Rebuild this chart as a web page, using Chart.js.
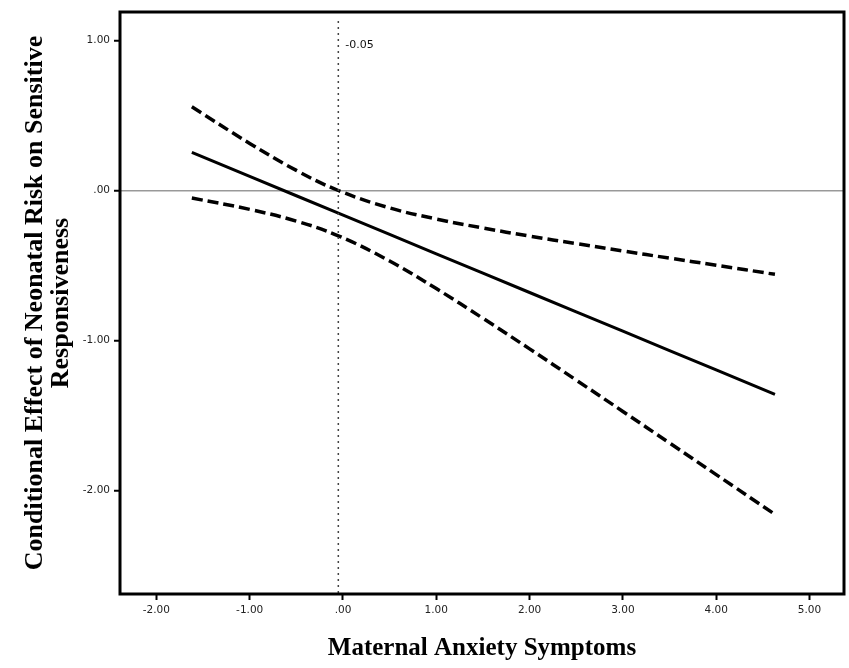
<!DOCTYPE html>
<html>
<head>
<meta charset="utf-8">
<script src="https://cdn.jsdelivr.net/npm/chart.js@4.4.0/dist/chart.umd.min.js"></script>
<style>
  html, body { margin: 0; padding: 0; background: #fff; }
  #wrap { width: 849px; height: 668px; }
</style>
</head>
<body>
<div id="wrap"><canvas id="chart" width="849" height="668"></canvas></div>
<script>
// values
const anxiety = [-1.62, -1.0, -0.5, -0.05, 0.5, 1.0, 1.5, 2.0, 2.5, 3.0, 3.5, 4.0, 4.63];
const effect = [0.254, 0.094, -0.035, -0.151, -0.293, -0.422, -0.551, -0.680, -0.809, -0.938, -1.067, -1.196, -1.359];
const upperCI = [0.558, 0.314, 0.134, 0.0, -0.116, -0.19, -0.25, -0.304, -0.354, -0.403, -0.451, -0.498, -0.559];
const lowerCI = [-0.05, -0.126, -0.204, -0.302, -0.47, -0.654, -0.852, -1.056, -1.264, -1.473, -1.683, -1.894, -2.159];
const jnPoint = -0.05;
const jnSpan = [1.13, -2.69];
const xTicks = [-2, -1, 0, 1, 2, 3, 4, 5];
const yTicks = [-2, -1, 0, 1];

function pts(ys) {
    return anxiety.map((x, i) => ({x: x, y: ys[i]}));
}

function fmt(v) {
    if (v === 0) return '.00';
    return v.toFixed(2);
}

const frame = {
    id: 'frame',
    afterDatasetsDraw(chart) {
        const ctx = chart.ctx;
        const a = chart.chartArea;
        ctx.save();
        ctx.strokeStyle = '#000';
        ctx.lineWidth = 3;
        ctx.strokeRect(a.left, a.top, a.right - a.left, a.bottom - a.top);
        // label of the Johnson-Neyman line
        ctx.fillStyle = '#111';
        ctx.font = '11px "DejaVu Sans"';
        ctx.textBaseline = 'middle';
        ctx.fillText('-0.05', chart.scales.x.getPixelForValue(jnPoint) + 7, chart.scales.y.getPixelForValue(0.97));
        ctx.restore();
    }
};

const chart = new Chart(document.getElementById('chart'), {
    type: 'scatter',
    data: {
        datasets: [
            {
                label: 'jn',
                data: [{x: jnPoint, y: jnSpan[0]}, {x: jnPoint, y: jnSpan[1]}],
                showLine: true,
                borderColor: '#444',
                borderWidth: 1.5,
                borderDash: [2, 4],
                pointRadius: 0
            },
            {
                label: 'upper',
                data: pts(upperCI),
                showLine: true,
                borderColor: '#000',
                borderWidth: 3.5,
                borderDash: [11, 5],
                tension: 0.4,
                pointRadius: 0
            },
            {
                label: 'lower',
                data: pts(lowerCI),
                showLine: true,
                borderColor: '#000',
                borderWidth: 3.5,
                borderDash: [11, 5],
                tension: 0.4,
                pointRadius: 0
            },
            {
                label: 'effect',
                data: pts(effect),
                showLine: true,
                borderColor: '#000',
                borderWidth: 3,
                pointRadius: 0
            }
        ]
    },
    options: {
        responsive: false,
        animation: false,
        layout: { padding: { left: 0, top: 12, right: 5, bottom: 0 } },
        plugins: { legend: { display: false }, tooltip: { enabled: false } },
        scales: {
            x: {
                type: 'linear',
                min: -2.39,
                max: 5.37,
                afterFit: (s) => { s.height = 74; },
                afterBuildTicks: (s) => { s.ticks = xTicks.map(v => ({value: v})); },
                border: { display: false },
                grid: { drawOnChartArea: false, tickLength: 6, tickColor: '#000', tickWidth: 2 },
                ticks: {
                    callback: fmt,
                    color: '#222',
                    font: { family: 'DejaVu Sans', size: 10.5 },
                    padding: 4,
                    maxRotation: 0
                },
                title: {
                    display: true,
                    text: 'Maternal Anxiety Symptoms',
                    color: '#000',
                    font: { family: 'Liberation Serif', size: 25, weight: 'bold' },
                    padding: { top: 18 }
                }
            },
            y: {
                type: 'linear',
                min: -2.69,
                max: 1.19,
                afterFit: (s) => { s.width = 120; },
                afterBuildTicks: (s) => { s.ticks = yTicks.map(v => ({value: v})); },
                border: { display: false },
                grid: {
                    color: (c) => c.tick && c.tick.value === 0 ? '#999' : 'rgba(0,0,0,0)',
                    lineWidth: 1.5,
                    tickLength: 6,
                    tickColor: '#000',
                    tickWidth: 2
                },
                ticks: {
                    callback: fmt,
                    color: '#222',
                    font: { family: 'DejaVu Sans', size: 10.5 },
                    padding: 4
                },
                title: {
                    display: true,
                    text: ['Conditional Effect of Neonatal Risk on Sensitive', 'Responsiveness'],
                    color: '#000',
                    font: { family: 'Liberation Serif', size: 26, weight: 'bold', lineHeight: 1.0 },
                    padding: { top: 22 }
                }
            }
        }
    },
    plugins: [frame]
});
</script>
</body>
</html>
